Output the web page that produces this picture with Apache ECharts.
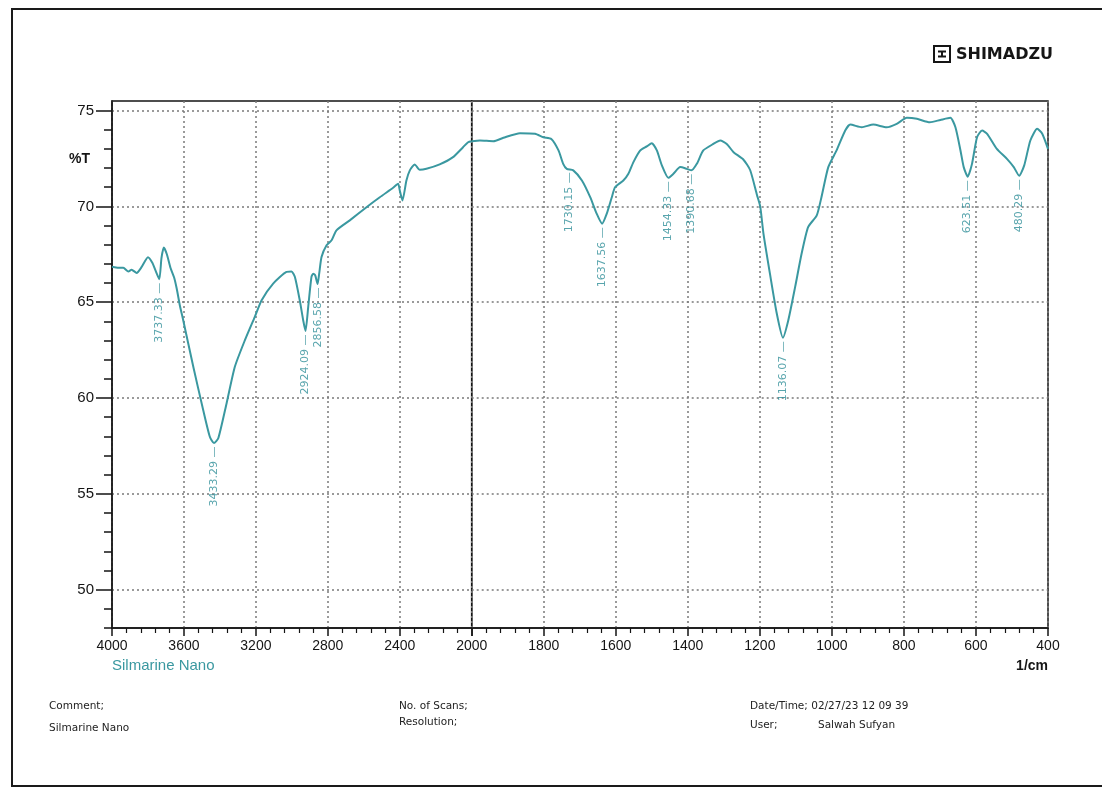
<!DOCTYPE html>
<html><head><meta charset="utf-8">
<script src="https://cdn.jsdelivr.net/npm/echarts/dist/echarts.min.js"></script>
<style>html,body{margin:0;padding:0;background:#fff}#c{width:1102px;height:787px}</style>
</head><body><div id="c"></div>
<script>
// ---- data ----
const wavenumbers = [4000,3993,3960,3937,3909,3891,3863,3835,3800,3775,3760,3737,3725,3712,3695,3675,3655,3640,3622,3604,3548,3493,3456,3433,3409,3363,3317,3261,3206,3168,3104,3030,3002,2983,2956,2937,2924,2909,2891,2881,2870,2857,2848,2835,2807,2779,2752,2678,2585,2511,2437,2409,2400,2385,2363,2344,2317,2289,2252,2178,2104,2048,2020,2000,1977,1940,1912,1866,1824,1801,1779,1759,1746,1736,1718,1694,1671,1653,1638,1625,1611,1602,1579,1565,1551,1532,1514,1500,1486,1472,1454,1440,1421,1403,1390,1375,1357,1329,1310,1292,1273,1246,1227,1208,1199,1190,1172,1153,1136,1121,1102,1084,1066,1042,1029,1010,987,963,949,917,885,848,820,792,764,728,699,671,657,643,634,623,611,597,583,569,542,514,495,480,466,449,430,416,400];
const transmittance = [66.85,66.84,66.8,66.8,66.6,66.7,66.53,66.84,67.35,67.05,66.7,66.2,67.3,67.85,67.5,66.8,66.3,65.7,64.8,64.06,61.63,59.38,57.98,57.65,57.9,59.72,61.63,63.02,64.24,65.1,65.97,66.58,66.6,66.32,65.1,64.06,63.5,64.76,66.32,66.49,66.4,65.95,66.49,67.36,67.97,68.23,68.75,69.27,69.96,70.48,70.97,71.18,70.83,70.31,71.35,71.88,72.19,71.91,71.96,72.19,72.57,73.09,73.35,73.4,73.44,73.4,73.58,73.82,73.79,73.61,73.52,72.92,72.22,71.96,71.88,71.35,70.48,69.62,69.1,69.62,70.48,71.0,71.35,71.7,72.31,72.92,73.13,73.3,72.92,72.14,71.49,71.7,72.05,71.96,71.88,72.22,72.92,73.26,73.44,73.26,72.83,72.45,71.9,70.6,70.0,68.58,66.49,64.41,63.15,64.06,65.8,67.54,68.92,69.53,70.48,72.05,72.92,73.96,74.27,74.13,74.27,74.13,74.31,74.62,74.57,74.39,74.51,74.62,74.13,72.92,72.05,71.55,72.22,73.61,73.96,73.79,73.0,72.48,72.05,71.6,72.14,73.44,74.05,73.79,73.0];
const peakWavenumbers = [3737.33,3433.29,2924.09,2856.58,1730.15,1637.56,1454.33,1390.68,1136.07,623.51,480.29];
const peakTransmittance = [66.2,57.65,63.5,65.95,71.96,69.1,71.49,71.88,63.15,71.55,71.6];
const peakLabels = ['3737.33','3433.29','2924.09','2856.58','1730.15','1637.56','1454.33','1390.68','1136.07','623.51','480.29'];
const yTickLabels = [50,55,60,65,70,75];
const yMinorTicks = [];
for (let v = 48; v <= 75; v++) yMinorTicks.push(v);

// ---- build ----
const hiPart = [], loPart = [];
wavenumbers.forEach((w, i) => {
  if (w >= 2000) hiPart.push([w, transmittance[i]]);
  if (w <= 2000) loPart.push([w, transmittance[i]]);
});
const hiPeaks = [], loPeaks = [];
peakWavenumbers.forEach((w, i) => {
  const d = { name: peakLabels[i], value: [w, peakTransmittance[i]] };
  (w > 2000 ? hiPeaks : loPeaks).push(d);
});

const TEAL = '#3a98a0';
const DARK = '#151515';
const gridTop = 101, gridBottom = 159;
const split = { show: true, lineStyle: { color: '#7a7a7a', width: 1.5, type: [2, 3] } };

function xAxisCfg(gi, min, max, interval, hideMin) {
  return {
    type: 'value', gridIndex: gi, min: min, max: max, interval: interval, inverse: true,
    axisLine: { show: true, onZero: false, lineStyle: { color: DARK, width: 1.5 } },
    axisTick: { show: true, length: 8, lineStyle: { color: DARK, width: 1.5 } },
    minorTick: { show: true, splitNumber: 5, length: 5, lineStyle: { color: DARK, width: 1.2 } },
    axisLabel: { show: true, margin: 11, fontSize: 14, color: DARK, fontFamily: 'Liberation Sans',
                 showMinLabel: !hideMin, showMaxLabel: true, formatter: v => String(v) },
    splitLine: split
  };
}
const peakLabel = {
  show: true, position: 'bottom', distance: 3, rotate: 90, align: 'right', verticalAlign: 'middle',
  color: '#2f8f98', fontSize: 11, fontFamily: 'DejaVu Sans',
  formatter: p => p.name + ' \u2014'
};

const option = {
  animation: false,
  backgroundColor: '#ffffff',
  grid: [
    { left: 112, right: 630.3, top: gridTop, bottom: gridBottom, show: true, borderColor: DARK, borderWidth: 1.5, outerBoundsMode: 'none' },
    { left: 471.7, right: 54, top: gridTop, bottom: gridBottom, show: true, borderColor: DARK, borderWidth: 1.5, outerBoundsMode: 'none' }
  ],
  xAxis: [ xAxisCfg(0, 2000, 4000, 400, true), xAxisCfg(1, 400, 2000, 200, false) ],
  yAxis: [
    { type: 'value', gridIndex: 0, position: 'left', min: 48, max: 75.5,
      axisLine: { show: true, onZero: false, lineStyle: { color: DARK, width: 1.5 } },
      axisTick: { show: true, length: 16, customValues: yTickLabels, lineStyle: { color: DARK, width: 1.5 } },
      axisLabel: { show: true, customValues: yTickLabels, margin: 18, fontSize: 15, color: DARK, fontFamily: 'Liberation Sans' },
      splitLine: split },
    { type: 'value', gridIndex: 0, position: 'left', min: 48, max: 75.5,
      axisLine: { show: false },
      axisTick: { show: true, length: 8, customValues: yMinorTicks, lineStyle: { color: DARK, width: 1.5 } },
      axisLabel: { show: false }, splitLine: { show: false } },
    { type: 'value', gridIndex: 1, min: 48, max: 75.5,
      axisLine: { show: false }, axisTick: { show: false, customValues: yTickLabels },
      axisLabel: { show: false, customValues: yTickLabels }, splitLine: split }
  ],
  series: [
    { type: 'line', xAxisIndex: 0, yAxisIndex: 0, data: hiPart, showSymbol: false, smooth: 0.2,
      lineStyle: { color: TEAL, width: 2 }, z: 3 },
    { type: 'line', xAxisIndex: 1, yAxisIndex: 2, data: loPart, showSymbol: false, smooth: 0.2,
      lineStyle: { color: TEAL, width: 2 }, z: 3 },
    { type: 'scatter', xAxisIndex: 0, yAxisIndex: 0, data: hiPeaks, symbolSize: 1,
      itemStyle: { color: 'rgba(0,0,0,0)' }, label: peakLabel, z: 4 },
    { type: 'scatter', xAxisIndex: 1, yAxisIndex: 2, data: loPeaks, symbolSize: 1,
      itemStyle: { color: 'rgba(0,0,0,0)' }, label: peakLabel, z: 4 }
  ],
  graphic: [
    { type: 'rect', silent: true, z: -10, shape: { x: 12, y: 9, width: 1100, height: 777 },
      style: { fill: 'none', stroke: '#1a1a1a', lineWidth: 2 } },
    { type: 'group', x: 934, y: 46, children: [
      { type: 'rect', shape: { x: 0, y: 0, width: 16, height: 16 }, style: { fill: 'none', stroke: DARK, lineWidth: 2 } },
      { type: 'line', shape: { x1: 4, y1: 5.5, x2: 12, y2: 5.5 }, style: { stroke: DARK, lineWidth: 2 } },
      { type: 'line', shape: { x1: 4, y1: 10.5, x2: 12, y2: 10.5 }, style: { stroke: DARK, lineWidth: 2 } },
      { type: 'line', shape: { x1: 8, y1: 5.5, x2: 8, y2: 10.5 }, style: { stroke: DARK, lineWidth: 2 } }
    ] },
    { type: 'text', x: 956, y: 55, style: { text: 'SHIMADZU', font: 'bold 16px "DejaVu Sans"', fill: DARK, verticalAlign: 'middle' } },
    { type: 'text', x: 69, y: 159, style: { text: '%T', font: 'bold 14px "Liberation Sans"', fill: DARK, verticalAlign: 'middle' } },
    { type: 'text', x: 1048, y: 666, style: { text: '1/cm', font: 'bold 14px "Liberation Sans"', fill: DARK, align: 'right', verticalAlign: 'middle' } },
    { type: 'text', x: 112, y: 666, style: { text: 'Silmarine Nano', font: '15px "Liberation Sans"', fill: TEAL, verticalAlign: 'middle' } },
    { type: 'text', x: 49, y: 706, style: { text: 'Comment;', font: '10.5px "DejaVu Sans"', fill: '#222', verticalAlign: 'middle' } },
    { type: 'text', x: 49, y: 728, style: { text: 'Silmarine Nano', font: '10.5px "DejaVu Sans"', fill: '#222', verticalAlign: 'middle' } },
    { type: 'text', x: 399, y: 706, style: { text: 'No. of Scans;', font: '10.5px "DejaVu Sans"', fill: '#222', verticalAlign: 'middle' } },
    { type: 'text', x: 399, y: 722, style: { text: 'Resolution;', font: '10.5px "DejaVu Sans"', fill: '#222', verticalAlign: 'middle' } },
    { type: 'text', x: 750, y: 706, style: { text: 'Date/Time; 02/27/23 12 09 39', font: '10.5px "DejaVu Sans"', fill: '#222', verticalAlign: 'middle' } },
    { type: 'text', x: 750, y: 725, style: { text: 'User;', font: '10.5px "DejaVu Sans"', fill: '#222', verticalAlign: 'middle' } },
    { type: 'text', x: 818, y: 725, style: { text: 'Salwah Sufyan', font: '10.5px "DejaVu Sans"', fill: '#222', verticalAlign: 'middle' } }
  ]
};
const chart = echarts.init(document.getElementById('c'), null, { renderer: 'canvas' });
chart.setOption(option);
</script>
</body></html>
